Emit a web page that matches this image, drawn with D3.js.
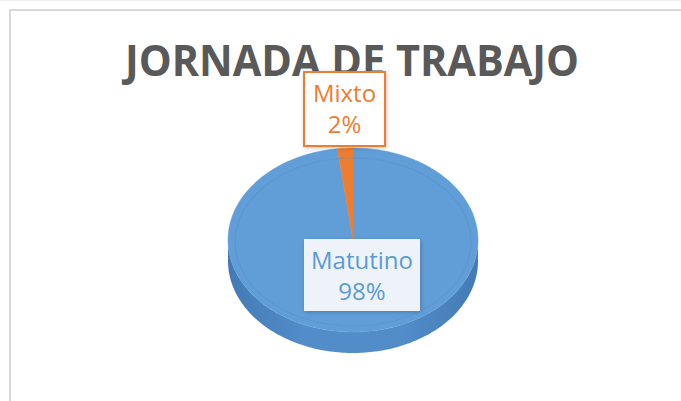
<!DOCTYPE html>
<html>
<head>
<meta charset="utf-8">
<script src="https://cdn.jsdelivr.net/npm/d3@7"></script>
<style>
  html, body { margin: 0; padding: 0; background: #fff; }
  svg { display: block; }
</style>
</head>
<body>
<div id="vis"></div>
<script>
const width = 681;
const height = 401;

// data
const categories = ["Matutino", "Mixto"];
const values = [98, 2];
const pctLabels = ["98%", "2%"];
const colors = ["#619ED8", "#ED7D31"];
const sideColors = ["#4F89C5", "#C8652A"];

const svg = d3.select("#vis")
  .append("svg")
  .attr("width", width)
  .attr("height", height);

const defs = svg.append("defs");

const shadow = defs.append("filter")
  .attr("id", "shadow")
  .attr("x", "-20%").attr("y", "-20%")
  .attr("width", "140%").attr("height", "140%");
shadow.append("feDropShadow")
  .attr("dx", 1).attr("dy", 1)
  .attr("stdDeviation", 2)
  .attr("flood-color", "#000")
  .attr("flood-opacity", 0.22);

const sideGrad = defs.append("linearGradient")
  .attr("id", "sideGrad")
  .attr("x1", "0%").attr("x2", "100%")
  .attr("y1", "0%").attr("y2", "0%");
sideGrad.append("stop").attr("offset", "0%").attr("stop-color", "#437AB5");
sideGrad.append("stop").attr("offset", "30%").attr("stop-color", "#528DC9");
sideGrad.append("stop").attr("offset", "70%").attr("stop-color", "#528DC9");
sideGrad.append("stop").attr("offset", "100%").attr("stop-color", "#437AB5");

// chart area frame (light grey, cut at right/bottom)
svg.append("path")
  .attr("d", "M10," + (height + 5) + " L10,10 L" + (width + 5) + ",10")
  .attr("fill", "none")
  .attr("stroke", "#D9D9D9")
  .attr("stroke-width", 2);
svg.append("line")
  .attr("x1", 0).attr("x2", width)
  .attr("y1", 0.5).attr("y2", 0.5)
  .attr("stroke", "#EEEEEE")
  .attr("stroke-width", 1);

// 3d pie geometry
const cx = 353, cy = 240, rx = 125, ry = 92, depth = 21;

const pie = d3.pie().sort(null).value(d => d)(values);

const pt = (a, dy = 0) => [cx + rx * Math.sin(a), cy - ry * Math.cos(a) + dy];
const line = d3.line();

function arcPoints(a0, a1, dy = 0) {
  const n = Math.max(2, Math.ceil(Math.abs(a1 - a0) / 0.02));
  return d3.range(n + 1).map(i => pt(a0 + (a1 - a0) * i / n, dy));
}

// side walls (front half only: angles between PI/2 and 3PI/2)
const sides = svg.append("g");
pie.forEach((p, i) => {
  const a0 = Math.max(p.startAngle, Math.PI / 2);
  const a1 = Math.min(p.endAngle, 3 * Math.PI / 2);
  if (a1 <= a0) return;
  const top = arcPoints(a0, a1);
  const bottom = arcPoints(a1, a0, depth);
  sides.append("path")
    .attr("d", line(top.concat(bottom)) + "Z")
    .attr("fill", i === 0 ? "url(#sideGrad)" : sideColors[i]);
});

// top faces
const tops = svg.append("g");
pie.forEach((p, i) => {
  const pts = [[cx, cy]].concat(arcPoints(p.startAngle, p.endAngle));
  tops.append("path")
    .attr("d", line(pts) + "Z")
    .attr("fill", colors[i])
    .attr("stroke", colors[i])
    .attr("stroke-width", 0.5);
});

// faint bevel ring on the top face
svg.append("ellipse")
  .attr("cx", cx).attr("cy", cy + 2)
  .attr("rx", rx - 7).attr("ry", ry - 8)
  .attr("fill", "none")
  .attr("stroke", "#4F8CC8")
  .attr("stroke-opacity", 0.35)
  .attr("stroke-width", 1.2);

// title
const title = svg.append("text")
  .attr("x", 352)
  .attr("y", 76)
  .attr("text-anchor", "middle")
  .attr("font-family", "'Open Sans', 'Liberation Sans', sans-serif")
  .attr("font-weight", 700)
  .attr("font-size", 43)
  .attr("fill", "#595959")
  .text("JORNADA DE TRABAJO");
title.attr("textLength", 454).attr("lengthAdjust", "spacingAndGlyphs");

// data labels
const labelBoxes = [
  { x: 304, y: 239, w: 116, h: 72, fill: "#EEF3FA", stroke: "none" },
  { x: 304, y: 72, w: 81, h: 74, fill: "#FFFFFF", stroke: colors[1] }
];

const labels = svg.append("g");
pie.forEach((p, i) => {
  const b = labelBoxes[i];
  const g = labels.append("g");
  g.append("rect")
    .attr("x", b.x).attr("y", b.y)
    .attr("width", b.w).attr("height", b.h)
    .attr("fill", b.fill)
    .attr("stroke", b.stroke)
    .attr("stroke-width", 2)
    .attr("filter", "url(#shadow)");
  const t = g.append("text")
    .attr("text-anchor", "middle")
    .attr("font-family", "'Open Sans', 'Liberation Sans', sans-serif")
    .attr("font-size", 24)
    .attr("fill", i === 0 ? "#5B9BD5" : colors[1]);
  t.append("tspan")
    .attr("x", b.x + b.w / 2)
    .attr("y", b.y + 30)
    .text(categories[i]);
  t.append("tspan")
    .attr("x", b.x + b.w / 2)
    .attr("y", b.y + 61)
    .text(pctLabels[i]);
});
</script>
</body>
</html>
